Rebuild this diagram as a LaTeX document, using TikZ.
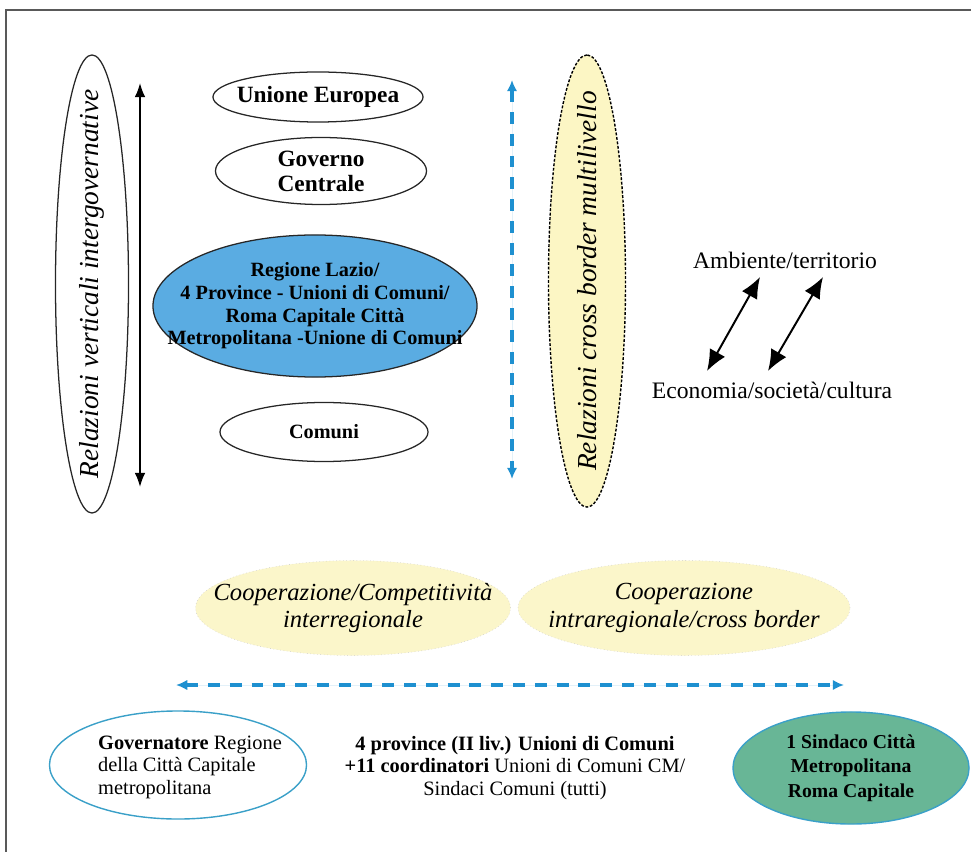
\documentclass[tikz,border=0pt]{standalone}
\usepackage{fontspec}
\setmainfont{Liberation Serif}
\usetikzlibrary{shapes.geometric,arrows.meta}

\definecolor{lazioblue}{RGB}{90,172,226}
\definecolor{crossyellow}{RGB}{252,246,196}
\definecolor{coopyellow}{RGB}{251,246,202}
\definecolor{dashblue}{RGB}{30,144,208}
\definecolor{sindgreen}{RGB}{104,182,150}
\definecolor{goveredge}{RGB}{58,160,200}

\begin{document}
\begin{tikzpicture}[
        x=0.025cm, y=-0.025cm,
        >=latex,
        oval/.style={
            ellipse,
            draw=black!85,
            line width=0.9pt,
            inner sep=0pt
        },
        levelfont/.style={
            font=\bfseries\fontsize{16.6}{17.7}\selectfont,
            align=center
        },
        smallbold/.style={
            font=\bfseries\fontsize{14.4}{16.1}\selectfont,
            align=center
        },
        relfont/.style={
            font=\itshape\fontsize{19.5}{22}\selectfont,
            rotate=90
        },
        coopfont/.style={
            font=\itshape\fontsize{17.5}{19.5}\selectfont,
            align=center
        },
        plainfont/.style={
            font=\fontsize{16.8}{19}\selectfont
        },
        bottomfont/.style={
            font=\fontsize{14.5}{16}\selectfont
        },
        blackarrow/.style={
            {Latex[length=10pt,width=7.5pt]}-{Latex[length=10pt,width=7.5pt]},
            line width=1.2pt
        },
        diagarrow/.style={
            {Latex[length=15pt,width=12.5pt]}-{Latex[length=15pt,width=12.5pt]},
            line width=1.4pt
        },
        bluearrow/.style={
            {Latex[length=8pt,width=7.5pt]}-{Latex[length=8pt,width=7.5pt]},
            draw=dashblue,
            fill=dashblue,
            line width=2.2pt,
            dash pattern=on 8.5pt off 7pt
        }
    ]

    \useasboundingbox (0,0) rectangle (971,852);

    % frame
    \draw[black!65, line width=1.2pt] (6,852) -- (6,10) -- (971,10);

    % vertical relations
    \node[oval, rotate=90, minimum width=11.45cm, minimum height=1.825cm] (vertical) at (92,284) {};
    \node[relfont] (verticaltxt) at (vertical) {Relazioni verticali intergovernative};

    \coordinate (vtop) at (140,83);
    \coordinate (vbot) at (140,487);
    \draw[blackarrow] (vtop) -- (vbot);

    % levels
    \node[oval, minimum width=5.25cm, minimum height=1.25cm] (ue) at (318,97) {};
    \node[levelfont] (uetxt) at (ue) {Unione Europea};

    \node[oval, minimum width=5.275cm, minimum height=1.675cm] (governo) at (321,171) {};
    \node[levelfont] (governotxt) at (governo) {Governo\\Centrale};

    \node[oval, fill=lazioblue, minimum width=8.1cm, minimum height=3.55cm] (lazio) at (315,306) {};
    \node[smallbold] (laziotxt) at (lazio) {Regione Lazio/\\4 Province - Unioni di Comuni/\\Roma Capitale Città\\Metropolitana -Unione di Comuni};

    \node[oval, minimum width=5.2cm, minimum height=1.475cm] (comuni) at (324,432) {};
    \node[smallbold] (comunitxt) at (comuni) {Comuni};

    % cross border relations
    \coordinate (ctop) at (512,80);
    \coordinate (cbot) at (512,479);
    \draw[bluearrow] (ctop) -- (cbot);

    \node[ellipse, rotate=90, fill=crossyellow, draw=black, line width=1pt,
          dash pattern=on 2pt off 1.2pt, inner sep=0pt,
          minimum width=11.3cm, minimum height=1.925cm] (cross) at (587,281) {};
    \node[relfont] (crosstxt) at (cross) {Relazioni cross border multilivello};

    % ambiente / economia
    \node[plainfont] (ambiente) at (785,260) {Ambiente/territorio};
    \node[plainfont] (economia) at (772,390) {Economia/società/cultura};

    \coordinate (ecoA) at (707,371);
    \coordinate (ambA) at (760,277);
    \coordinate (ecoB) at (768,371);
    \coordinate (ambB) at (823,277);
    \draw[diagarrow] (ecoA) -- (ambA);
    \draw[diagarrow] (ecoB) -- (ambB);

    % cooperation
    \node[ellipse, fill=coopyellow, draw=black!20, dotted, inner sep=0pt,
          minimum width=7.875cm, minimum height=2.375cm] (coopinter) at (353,608) {};
    \node[coopfont] (coopintertxt) at (coopinter) {Cooperazione/Competitività\\interregionale};

    \node[ellipse, fill=coopyellow, draw=black!20, dotted, inner sep=0pt,
          minimum width=8.3cm, minimum height=2.375cm] (coopintra) at (684,608) {};
    \node[coopfont] (coopintratxt) at (coopintra) {Cooperazione\\intraregionale/cross border};

    \coordinate (hleft) at (176,685);
    \coordinate (hright) at (844,685);
    \draw[bluearrow] (hleft) -- (hright);

    % actors
    \node[ellipse, draw=goveredge, line width=1pt, inner sep=0pt,
          minimum width=6.425cm, minimum height=2.7cm] (governatore) at (178,765) {};
    \node[bottomfont, align=left] (governatoretxt) at (190,767)
        {\textbf{Governatore} Regione\\della Città Capitale\\metropolitana};

    \node[bottomfont, align=center] (province) at (515,768)
        {\textbf{4 province (II liv.) Unioni di Comuni}\\
         \textbf{+11 coordinatori} Unioni di Comuni CM/\\
         Sindaci Comuni (tutti)};

    \node[ellipse, fill=sindgreen, draw=goveredge, line width=1pt, inner sep=0pt,
          minimum width=5.9cm, minimum height=2.8cm] (sindaco) at (851,768) {};
    \node[bottomfont, font=\bfseries\fontsize{14}{17.4}\selectfont, align=center] (sindacotxt) at (sindaco)
        {1 Sindaco Città\\Metropolitana\\Roma Capitale};

\end{tikzpicture}
\end{document}
